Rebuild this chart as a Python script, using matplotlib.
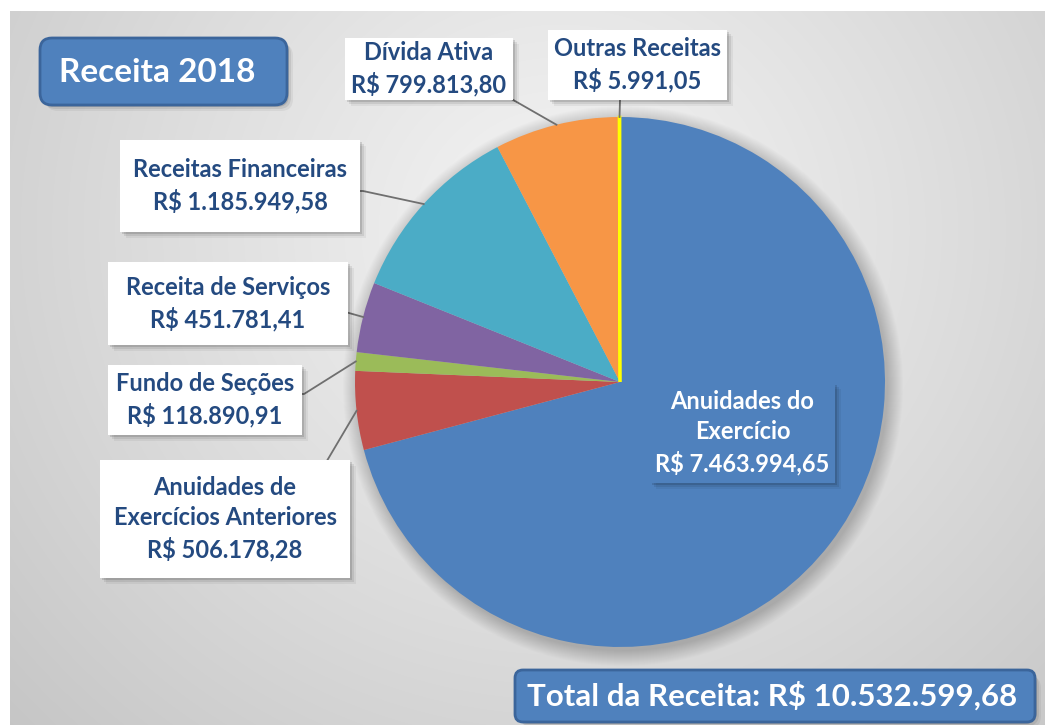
import numpy as np
import matplotlib
matplotlib.use("Agg")
import matplotlib.pyplot as plt
from matplotlib.patches import Circle, FancyBboxPatch, Rectangle

# data
categorias = ["Anuidades do\nExercício", "Anuidades de\nExercícios Anteriores", "Fundo de Seções",
              "Receita de Serviços", "Receitas Financeiras", "Dívida Ativa", "Outras Receitas"]
valores = [7463994.65, 506178.28, 118890.91, 451781.41, 1185949.58, 799813.80, 5991.05]
cores = ["#4F81BD", "#C0504D", "#9BBB59", "#8064A2", "#4BACC6", "#F79646", "#FFFF00"]
titulo = "Receita 2018"
total_txt = "Total da Receita: "

W, H = 1045, 725
TXT = "#244A80"
plt.rcParams['font.family'] = ['Lato', 'DejaVu Sans']


def brl(v):
    s = f"{v:,.2f}"
    return "R$ " + s.replace(",", "X").replace(".", ",").replace("X", ".")


def Y(y):
    # pixel row (from top) -> data y
    return H - y


fig = plt.figure(figsize=(W / 100, H / 100), dpi=100)
ax = fig.add_axes([0, 0, 1, 1])
ax.set_xlim(0, W)
ax.set_ylim(0, H)
ax.axis("off")

# background panel with soft radial gradient
xx, yy = np.meshgrid(np.arange(10, W), np.arange(11, H))
d = np.sqrt((xx - 560) ** 2 + ((yy - 230) * 1.05) ** 2) / 740.0
g = np.clip(0.955 - 0.175 * d ** 1.1, 0.76, 0.96)
ax.imshow(np.dstack([g, g, g]), extent=[10, W, Y(H), Y(11)], origin="upper", zorder=0, aspect="auto")

# pie
cx, cy, R = 620, 382, 265
for k in range(16):
    ax.add_patch(Circle((cx + 3, Y(cy + 4)), R + k, color="black", alpha=0.012, lw=0, zorder=1))
wedges, _ = ax.pie(valores, colors=cores, startangle=90, counterclock=False, radius=R,
                   center=(cx, Y(cy)), frame=True, wedgeprops=dict(linewidth=0))
for w in wedges:
    w.set_zorder(2)
wedges[-1].set_edgecolor(cores[-1])
wedges[-1].set_linewidth(2)
ax.set_xlim(0, W)
ax.set_ylim(0, H)
ax.set_aspect("equal")
ax.axis("off")

# label boxes: (x0, y0, x1, y1) in pixels, leader start point
caixas = [
    (650, 383, 835, 483, None),
    (100, 460, 350, 578, (296, 503)),
    (108, 365, 302, 435, (298, 394)),
    (108, 262, 348, 345, (318, 306)),
    (120, 140, 360, 232, (357, 191)),
    (345, 38, 513, 100, (508, 97)),
    (548, 30, 727, 100, (620, 100)),
]


def sombra(x0, y0, x1, y1, rounded=False):
    for k, a in [(6, 0.05), (4, 0.08), (2, 0.12)]:
        if rounded:
            p = FancyBboxPatch((x0 + k, Y(y1 + k)), x1 - x0, y1 - y0,
                               boxstyle="round,pad=0,rounding_size=12", fc="black", ec="none", alpha=a, zorder=3)
        else:
            p = Rectangle((x0 + k, Y(y1 + k)), x1 - x0, y1 - y0, fc="black", ec="none", alpha=a, zorder=3)
        ax.add_patch(p)


for i, (x0, y0, x1, y1, ini) in enumerate(caixas):
    w = wedges[i]
    meio = np.deg2rad((w.theta1 + w.theta2) / 2)
    if ini is not None:
        px = cx + R * np.cos(meio)
        py = Y(cy) + R * np.sin(meio)
        if ini[0] < 500:
            xs = [ini[0], ini[0] + 6, px]
            ys = [Y(ini[1]), Y(ini[1]), py]
        else:
            xs = [ini[0], px]
            ys = [Y(ini[1]), py]
        ax.plot(xs, ys, color="#6f6f6f", lw=1.3, zorder=2.5)
    sombra(x0, y0, x1, y1)
    if i == 0:
        fc, tc = cores[0], "white"
    else:
        fc, tc = "white", TXT
    ax.add_patch(Rectangle((x0, Y(y1)), x1 - x0, y1 - y0, fc=fc, ec="none", zorder=4))
    ax.text((x0 + x1) / 2, Y((y0 + y1) / 2), categorias[i] + "\n" + brl(valores[i]),
            ha="center", va="center", color=tc, fontsize=17, fontweight="bold",
            linespacing=1.38, zorder=5)

# title box
sombra(40, 38, 287, 105, rounded=True)
ax.add_patch(FancyBboxPatch((40, Y(105)), 247, 67, boxstyle="round,pad=0,rounding_size=12",
                            fc="#4F81BD", ec="#3B659B", lw=2, zorder=4))
ax.text(157, Y(72), titulo, ha="center", va="center", color="white", fontsize=24,
        fontweight="bold", zorder=5)

# total box
sombra(515, 670, 1035, 722, rounded=True)
ax.add_patch(FancyBboxPatch((515, Y(722)), 520, 52, boxstyle="round,pad=0,rounding_size=8",
                            fc="#4F81BD", ec="#3B659B", lw=2, zorder=4))
ax.text(772, Y(696), total_txt + brl(sum(valores)), ha="center", va="center", color="white",
        fontsize=22.5, fontweight="bold", zorder=5)

fig.savefig("out.png", dpi=100)
